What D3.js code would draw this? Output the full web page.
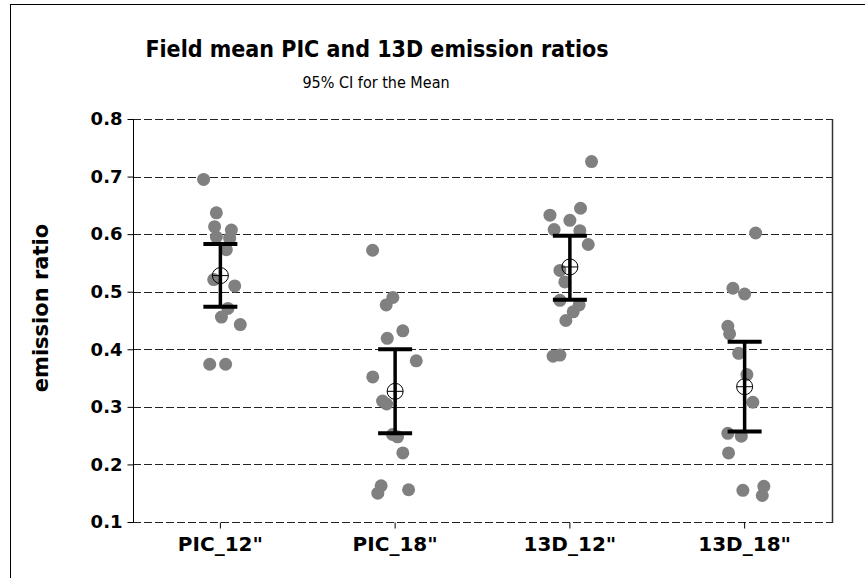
<!DOCTYPE html>
<html><head><meta charset="utf-8">
<script src="https://cdn.jsdelivr.net/npm/d3@7"></script>
<style>body{margin:0;background:#fff}</style>
</head><body>
<svg id="c" width="865" height="578"></svg>
<script>
const categories = ["PIC_12\"", "PIC_18\"", "13D_12\"", "13D_18\""];
const pic12 = [0.695, 0.637, 0.613, 0.607, 0.595, 0.593, 0.573, 0.521, 0.510, 0.471, 0.456, 0.443, 0.374, 0.374];
const pic12Jitter = [-0.096, -0.023, -0.033, 0.063, -0.023, 0.053, 0.034, -0.038, 0.082, 0.043, 0.006, 0.114, -0.061, 0.030];
const pic18 = [0.572, 0.490, 0.477, 0.432, 0.419, 0.380, 0.352, 0.310, 0.305, 0.252, 0.248, 0.220, 0.163, 0.150, 0.156];
const pic18Jitter = [-0.129, -0.013, -0.051, 0.044, -0.045, 0.121, -0.128, -0.072, -0.049, -0.015, 0.014, 0.044, -0.080, -0.099, 0.077];
const d13_12 = [0.726, 0.645, 0.633, 0.624, 0.608, 0.606, 0.582, 0.537, 0.517, 0.485, 0.477, 0.465, 0.450, 0.388, 0.390];
const d13_12Jitter = [0.124, 0.061, -0.114, 0.000, -0.090, 0.057, 0.105, -0.057, -0.029, -0.057, 0.053, 0.019, -0.023, -0.096, -0.057];
const d13_18 = [0.602, 0.506, 0.496, 0.440, 0.427, 0.393, 0.356, 0.308, 0.254, 0.249, 0.220, 0.162, 0.146, 0.155];
const d13_18Jitter = [0.063, -0.067, 0.000, -0.096, -0.086, -0.034, 0.013, 0.047, -0.096, -0.019, -0.092, 0.110, 0.101, -0.010];
const means = [0.528, 0.327, 0.543, 0.335];
const ciLow = [0.474, 0.254, 0.486, 0.257];
const ciHigh = [0.583, 0.400, 0.597, 0.413];
const yTicks = [0.1, 0.2, 0.3, 0.4, 0.5, 0.6, 0.7, 0.8];
const titleText = "Field mean PIC and 13D emission ratios";
const subtitleText = "95% CI for the Mean";
const yLabel = "emission ratio";

const groups = [[pic12, pic12Jitter], [pic18, pic18Jitter], [d13_12, d13_12Jitter], [d13_18, d13_18Jitter]];

const svg = d3.select("#c");
const L = 133, R = 832, T = 119, B = 522;
const x = d3.scaleBand().domain(categories).range([L, R]);
const y = d3.scaleLinear().domain([0.1, 0.8]).range([B, T]);
const cx = c => x(c) + x.bandwidth() / 2;
const font = "'DejaVu Sans', Verdana, sans-serif";
const condFont = "'DejaVu Sans Condensed', 'DejaVu Sans', sans-serif";

svg.append("rect").attr("x", 10.5).attr("y", 4.5).attr("width", 900).attr("height", 600)
  .attr("fill", "#fff").attr("stroke", "#000").attr("stroke-width", 1);

// gridlines
svg.append("g").selectAll("line").data(yTicks).join("line")
  .attr("x1", L).attr("x2", R)
  .attr("y1", d => Math.round(y(d)) + 0.5).attr("y2", d => Math.round(y(d)) + 0.5)
  .attr("stroke", "#222").attr("stroke-width", 1).attr("stroke-dasharray", "8,3");

// right edge
svg.append("line").attr("x1", R + 0.5).attr("x2", R + 0.5).attr("y1", T).attr("y2", B + 1)
  .attr("stroke", "#333").attr("stroke-width", 1.5);

// y axis
const yAxis = d3.axisLeft(y).tickValues(yTicks).tickFormat(d3.format(".1f")).tickSize(6).tickPadding(5);
const gy = svg.append("g").attr("transform", `translate(${L + 0.5},0)`).call(yAxis);
gy.select(".domain").attr("d", `M0,${T}V${B + 0.5}`).attr("stroke", "#000");
gy.selectAll(".tick line").attr("stroke", "#000");
gy.selectAll("text").attr("font-family", font).attr("font-weight", "bold").attr("font-size", 18).attr("fill", "#000");

// x axis
const xAxis = d3.axisBottom(x).tickSize(6).tickPadding(8);
const gx = svg.append("g").attr("transform", `translate(0,${B + 0.5})`).call(xAxis);
gx.select(".domain").remove();
gx.selectAll(".tick line").attr("stroke", "#000");
gx.selectAll("text").attr("font-family", font).attr("font-weight", "bold").attr("font-size", 20).attr("fill", "#000");

// points
groups.forEach(([vals, jit], i) => {
  const c = categories[i];
  svg.append("g").selectAll("circle").data(vals).join("circle")
    .attr("cx", (d, k) => cx(c) + jit[k] * x.bandwidth())
    .attr("cy", d => y(d))
    .attr("r", 6.5)
    .attr("fill", "#808080");
});

// CI bars
const ci = svg.append("g");
categories.forEach((c, i) => {
  const xc = cx(c);
  ci.append("line").attr("x1", xc).attr("x2", xc).attr("y1", y(ciHigh[i])).attr("y2", y(ciLow[i]))
    .attr("stroke", "#000").attr("stroke-width", 3.5);
  [ciHigh[i], ciLow[i]].forEach(v => {
    ci.append("line").attr("x1", xc - 17).attr("x2", xc + 17).attr("y1", y(v)).attr("y2", y(v))
      .attr("stroke", "#000").attr("stroke-width", 4);
  });
  const m = y(means[i]);
  ci.append("circle").attr("cx", xc).attr("cy", m).attr("r", 8).attr("fill", "none").attr("stroke", "#000").attr("stroke-width", 1);
  ci.append("line").attr("x1", xc - 8).attr("x2", xc + 8).attr("y1", m).attr("y2", m).attr("stroke", "#000").attr("stroke-width", 1);
});

// titles
svg.append("text").attr("x", 377).attr("y", 57).attr("text-anchor", "middle")
  .attr("font-family", condFont).attr("font-stretch", "condensed").attr("font-weight", "bold").attr("font-size", 23).text(titleText);
svg.append("text").attr("x", 376).attr("y", 88).attr("text-anchor", "middle")
  .attr("font-family", condFont).attr("font-stretch", "condensed").attr("font-size", 16).text(subtitleText);
svg.append("text").attr("transform", `translate(48,308) rotate(-90)`).attr("text-anchor", "middle")
  .attr("font-family", font).attr("font-weight", "bold").attr("font-size", 21).text(yLabel);
</script>
</body></html>
